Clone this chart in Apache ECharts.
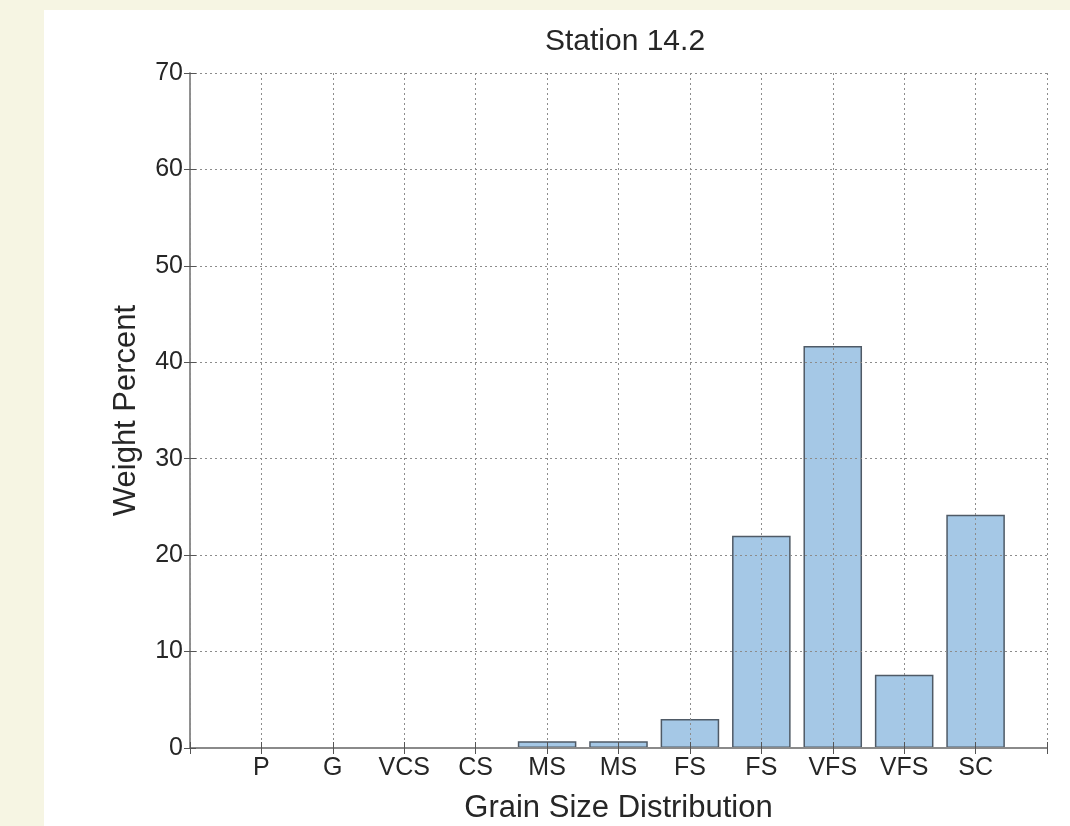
<!DOCTYPE html>
<html>
<head>
<meta charset="utf-8">
<script src="https://cdn.jsdelivr.net/npm/echarts@6/dist/echarts.min.js"></script>
<style>
  html, body { margin: 0; padding: 0; background: #f6f5e3; width: 1070px; height: 826px; overflow: hidden; }
  #chart { position: absolute; left: 44px; top: 10px; width: 1026px; height: 816px; background: #ffffff; }
</style>
</head>
<body>
<div id="chart"></div>
<script>
// ---- data ----
const titleText = 'Station 14.2';
const xAxisName = 'Grain Size Distribution';
const yAxisName = 'Weight Percent';
const categories = ['P', 'G', 'VCS', 'CS', 'MS', 'MS', 'FS', 'FS', 'VFS', 'VFS', 'SC'];
const weightPercent = [0, 0, 0, 0, 0.7, 0.7, 3.0, 22.0, 41.7, 7.6, 24.2];
const yTicks = [0, 10, 20, 30, 40, 50, 60, 70];

const barData = categories.map((c, i) => [i + 1, weightPercent[i]]);
const font = 'Liberation Sans, Arial, Helvetica, sans-serif';
const textColor = '#262626';
const boxColor = '#8a8a8a';
const gridLine = { show: true, lineStyle: { color: '#8c8c8c', type: [2, 3], width: 1 } };

const chart = echarts.init(document.getElementById('chart'), null, { renderer: 'canvas' });
chart.setOption({
  animation: false,
  backgroundColor: '#ffffff',
  title: {
    text: titleText,
    left: 576, top: 12, textAlign: 'center',
    textStyle: { fontFamily: font, fontSize: 30, fontWeight: 'normal', color: textColor }
  },
  grid: { left: 146, right: 23, top: 63, bottom: 78, containLabel: false, outerBoundsMode: 'none' },
  xAxis: [{
    type: 'value', min: 0, max: categories.length + 1, interval: 1, z: 5,
    name: xAxisName, nameLocation: 'middle', nameGap: 45,
    nameTextStyle: { fontFamily: font, fontSize: 31, color: textColor },
    axisLine: { show: true, lineStyle: { color: boxColor, width: 2 } },
    axisTick: { show: true, inside: true, length: 6, lineStyle: { color: '#555' } },
    axisLabel: {
      show: true, margin: 8, fontFamily: font, fontSize: 25, color: textColor,
      formatter: v => (v >= 1 && v <= categories.length) ? categories[v - 1] : ''
    },
    splitLine: gridLine
  }, {
    type: 'value', position: 'top', min: 0, max: categories.length + 1, interval: 1, z: 5,
    axisLine: { show: true, lineStyle: { color: boxColor, width: 1.5 } },
    axisTick: { show: true, inside: true, length: 6, lineStyle: { color: '#555' } },
    axisLabel: { show: false }, splitLine: { show: false }
  }],
  yAxis: [{
    type: 'value', min: 0, max: 70, interval: 10, z: 5,
    name: yAxisName, nameLocation: 'middle', nameGap: 48,
    nameTextStyle: { fontFamily: font, fontSize: 31, color: textColor },
    axisLine: { show: true, lineStyle: { color: boxColor, width: 1.5 } },
    axisTick: { show: true, inside: true, length: 6, lineStyle: { color: '#555' } },
    axisLabel: { show: true, margin: 7, fontFamily: font, fontSize: 25, color: textColor },
    splitLine: gridLine
  }, {
    type: 'value', position: 'right', min: 0, max: 70, interval: 10, z: 5,
    axisLine: { show: true, lineStyle: { color: boxColor, width: 1.5 } },
    axisTick: { show: true, inside: true, length: 6, lineStyle: { color: '#555' } },
    axisLabel: { show: false }, splitLine: { show: false }
  }],
  series: [{
    type: 'bar',
    xAxisIndex: 0, yAxisIndex: 0,
    data: barData,
    barWidth: '82%',
    z: 2,
    itemStyle: { color: '#a5c8e6', borderColor: '#4f5a66', borderWidth: 1.5 }
  }]
});
</script>
</body>
</html>
